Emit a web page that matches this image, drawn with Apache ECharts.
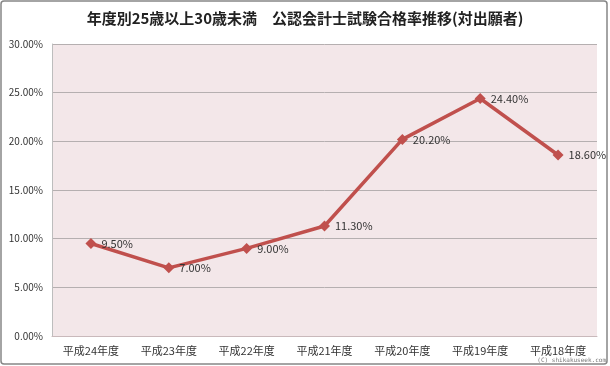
<!DOCTYPE html>
<html><head><meta charset="utf-8">
<script src="https://cdn.jsdelivr.net/npm/echarts@6/dist/echarts.min.js"></script>
<style>html,body{margin:0;padding:0;background:#fff}#c{width:610px;height:366px}</style>
</head><body><div id="c"></div>
<script>
const categories = ['平成24年度','平成23年度','平成22年度','平成21年度','平成20年度','平成19年度','平成18年度'];
const passRates = [9.5, 7.0, 9.0, 11.3, 20.2, 24.4, 18.6];
const yTicks = [0, 5, 10, 15, 20, 25, 30];
const titleText = '年度別25歳以上30歳未満　公認会計士試験合格率推移(対出願者)';
const credit = '(C) shikakuseek.com';

const chart = echarts.init(document.getElementById('c'), null, {renderer:'canvas'});
const FONT = '"Noto Sans CJK JP", "Noto Sans", sans-serif';
chart.setOption({
  animation:false,
  backgroundColor:'#ffffff',
  graphic:[
    {type:'rect', shape:{x:1,y:1,width:606,height:363,r:3}, style:{fill:'none', stroke:'#868686', lineWidth:1.5}, z:-1},
    {type:'text', right:4, bottom:3, style:{text:credit, fill:'#777', font:'6px "DejaVu Sans Mono", monospace'}}
  ],
  title:{text:titleText, left:'center', top:6,
    textStyle:{fontFamily:FONT, fontSize:15, fontWeight:'bold', color:'#222'}},
  grid:{left:52, right:13, top:44, bottom:30, containLabel:false,
    show:true, backgroundColor:'#F3E7E9', borderWidth:0},
  xAxis:{type:'category', data:categories, boundaryGap:true,
    axisLine:{show:true, lineStyle:{color:'#C9B9BB', width:1}},
    axisTick:{show:false},
    axisLabel:{fontFamily:FONT, fontSize:11, color:'#333', margin:9}},
  yAxis:{type:'value', min:yTicks[0], max:yTicks[yTicks.length-1], interval:5,
    axisLine:{show:true, lineStyle:{color:'#BDBDBD'}},
    axisTick:{show:false},
    splitLine:{lineStyle:{color:'#B5AFB0', width:1}},
    axisLabel:{fontFamily:FONT, fontSize:10, color:'#333', margin:9,
      formatter:v=>v.toFixed(2)+'%'}},
  series:[{type:'line', data:passRates,
    lineStyle:{color:'#C0504D', width:3.5},
    itemStyle:{color:'#C0504D'},
    symbol:'diamond', symbolSize:11, showAllSymbol:true,
    label:{show:true, position:'right', distance:5, fontFamily:FONT, fontSize:11, color:'#333',
      formatter:p=>p.value.toFixed(2)+'%'}
  }]
});
</script></body></html>
